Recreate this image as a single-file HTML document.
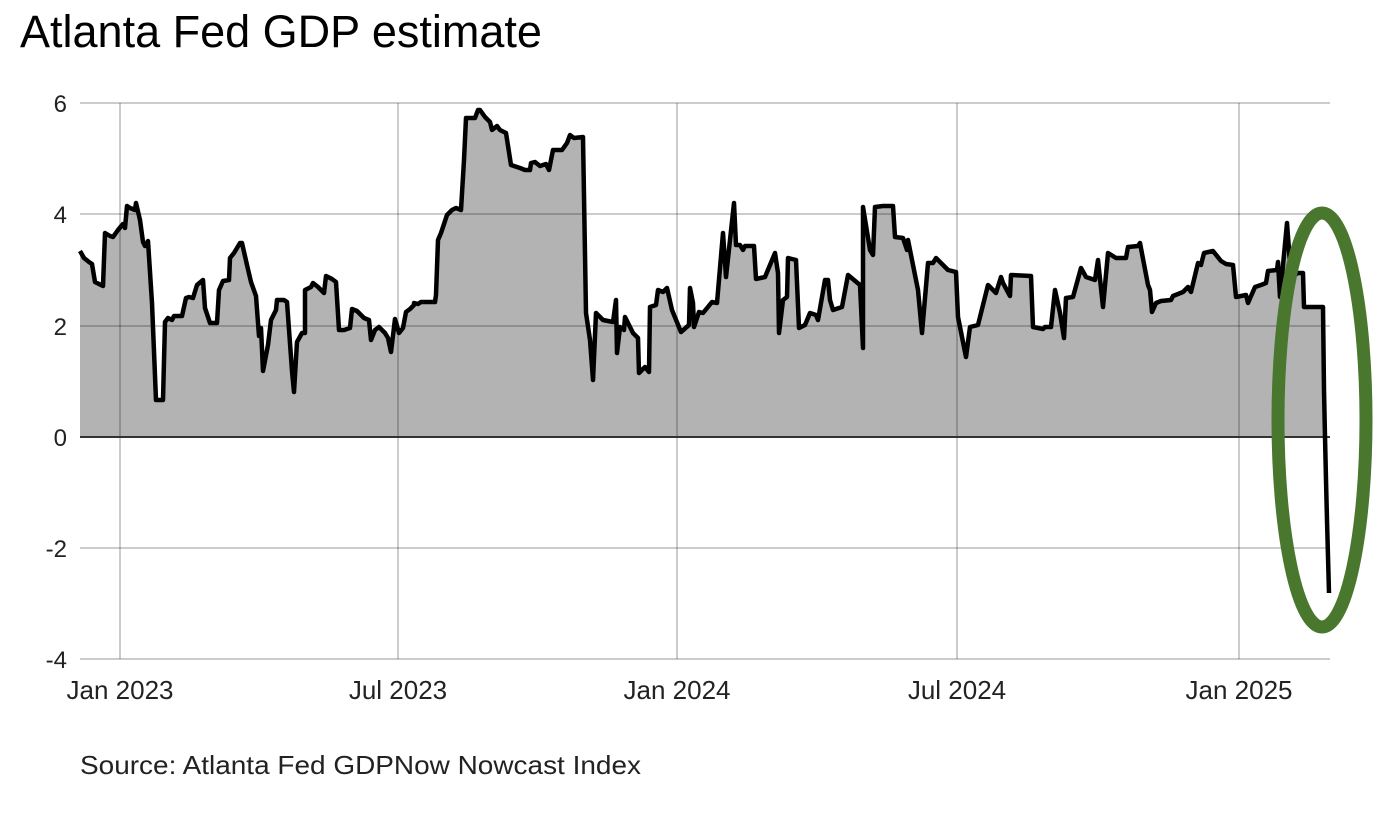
<!DOCTYPE html>
<html><head><meta charset="utf-8"><style>
html,body{margin:0;padding:0;background:#fff;}
svg{display:block;font-family:"Liberation Sans",sans-serif;}
</style></head><body>
<svg width="1378" height="822" viewBox="0 0 1378 822" xmlns="http://www.w3.org/2000/svg">
<rect width="1378" height="822" fill="#fff"/>
<text x="20" y="47" font-size="45" fill="#000">Atlanta Fed GDP estimate</text>
<defs>
<polyline id="ln" points="80,251 84,258 89,262 92,264 95,282 101,285 103,286 105,233 110,236 113,237 118,230 123,224 125,228 126,217 127,206 130,208 135,210 136,203 140,220 143,242 145,246 148,241 152,303 156,400 158,400 163,400 165,322 168,318 172,320 174,316 178,316 182,316 186,298 189,297 193,298 197,285 203,280 205,308 210,323 217,323 219,290 223,281 229,280 230,258 234,253 240,243 242,243 247,265 251,282 256,296 259,336 261,328 263,371 268,345 271,320 276,310 277,300 284,300 287,302 292,371 294,392 297,342 302,333 305,333 305,290 311,287 313,283 318,287 324,293 326,276 332,279 336,282 339,330 344,330 350,328 352,309 357,311 364,318 369,320 371,340 375,330 379,327 385,333 388,338 391,352 395,319 399,333 403,328 406,312 410,309 414,305 414,303 418,304 421,302 427,302 435,302 436,295 438,240 441,233 447,215 452,210 456,208 461,210 464,160 466,118 473,118 475,118 478,110 480,110 485,117 490,122 492,130 497,126 500,130 506,133 511,165 520,168 525,170 530,170 531,163 535,162 540,166 546,164 549,170 553,150 562,150 567,143 570,135 574,138 583,137 586,313 590,340 593,380 596,313 603,320 613,322 616,300 617,353 620,327 624,330 625,317 633,333 638,338 639,373 645,367 649,372 650,307 656,305 658,290 663,292 667,288 672,310 681,332 689,325 690,288 693,303 694,327 699,312 703,313 712,302 717,303 723,233 726,277 734,203 736,245 740,245 743,250 745,246 754,246 756,279 765,277 775,253 778,273 779,333 783,300 787,297 788,258 796,260 799,328 805,325 810,313 816,315 818,320 825,280 828,280 830,300 833,310 842,307 848,275 860,285 863,348 863,207 870,250 873,255 875,207 883,206 893,206 895,237 903,238 907,250 908,240 918,290 922,333 928,263 933,263 936,258 941,263 948,270 956,272 958,317 966,357 970,327 978,325 988,285 996,293 1001,277 1003,283 1010,296 1011,275 1031,276 1033,327 1043,329 1045,327 1051,327 1055,290 1060,313 1064,338 1066,298 1073,297 1081,268 1086,277 1095,280 1098,260 1103,307 1108,253 1116,258 1126,258 1128,247 1138,246 1140,243 1148,285 1150,290 1152,312 1156,303 1161,301 1171,300 1173,296 1183,292 1188,287 1191,292 1198,263 1201,265 1204,253 1213,251 1221,261 1226,264 1233,265 1236,297 1246,295 1248,303 1255,287 1261,285 1266,283 1268,271 1277,270 1278,262 1280,297 1287,223 1291,277 1298,273 1303,273 1304,307 1323,307 1324,390 1325,437 1326,480 1327,520 1329,593"/>
</defs>
<polygon fill="#b3b3b3" points="80,437 80,251 84,258 89,262 92,264 95,282 101,285 103,286 105,233 110,236 113,237 118,230 123,224 125,228 126,217 127,206 130,208 135,210 136,203 140,220 143,242 145,246 148,241 152,303 156,400 158,400 163,400 165,322 168,318 172,320 174,316 178,316 182,316 186,298 189,297 193,298 197,285 203,280 205,308 210,323 217,323 219,290 223,281 229,280 230,258 234,253 240,243 242,243 247,265 251,282 256,296 259,336 261,328 263,371 268,345 271,320 276,310 277,300 284,300 287,302 292,371 294,392 297,342 302,333 305,333 305,290 311,287 313,283 318,287 324,293 326,276 332,279 336,282 339,330 344,330 350,328 352,309 357,311 364,318 369,320 371,340 375,330 379,327 385,333 388,338 391,352 395,319 399,333 403,328 406,312 410,309 414,305 414,303 418,304 421,302 427,302 435,302 436,295 438,240 441,233 447,215 452,210 456,208 461,210 464,160 466,118 473,118 475,118 478,110 480,110 485,117 490,122 492,130 497,126 500,130 506,133 511,165 520,168 525,170 530,170 531,163 535,162 540,166 546,164 549,170 553,150 562,150 567,143 570,135 574,138 583,137 586,313 590,340 593,380 596,313 603,320 613,322 616,300 617,353 620,327 624,330 625,317 633,333 638,338 639,373 645,367 649,372 650,307 656,305 658,290 663,292 667,288 672,310 681,332 689,325 690,288 693,303 694,327 699,312 703,313 712,302 717,303 723,233 726,277 734,203 736,245 740,245 743,250 745,246 754,246 756,279 765,277 775,253 778,273 779,333 783,300 787,297 788,258 796,260 799,328 805,325 810,313 816,315 818,320 825,280 828,280 830,300 833,310 842,307 848,275 860,285 863,348 863,207 870,250 873,255 875,207 883,206 893,206 895,237 903,238 907,250 908,240 918,290 922,333 928,263 933,263 936,258 941,263 948,270 956,272 958,317 966,357 970,327 978,325 988,285 996,293 1001,277 1003,283 1010,296 1011,275 1031,276 1033,327 1043,329 1045,327 1051,327 1055,290 1060,313 1064,338 1066,298 1073,297 1081,268 1086,277 1095,280 1098,260 1103,307 1108,253 1116,258 1126,258 1128,247 1138,246 1140,243 1148,285 1150,290 1152,312 1156,303 1161,301 1171,300 1173,296 1183,292 1188,287 1191,292 1198,263 1201,265 1204,253 1213,251 1221,261 1226,264 1233,265 1236,297 1246,295 1248,303 1255,287 1261,285 1266,283 1268,271 1277,270 1278,262 1280,297 1287,223 1291,277 1298,273 1303,273 1304,307 1323,307 1324,390 1325,437"/>
<g stroke="#000" stroke-opacity="0.2" stroke-width="2">
<line x1="80" y1="103" x2="1330" y2="103"/>
<line x1="80" y1="214" x2="1330" y2="214"/>
<line x1="80" y1="326" x2="1330" y2="326"/>
<line x1="80" y1="548" x2="1330" y2="548"/>
<line x1="80" y1="659" x2="1330" y2="659"/>
<line x1="120" y1="103" x2="120" y2="659"/>
<line x1="398" y1="103" x2="398" y2="659"/>
<line x1="677" y1="103" x2="677" y2="659"/>
<line x1="957" y1="103" x2="957" y2="659"/>
<line x1="1239" y1="103" x2="1239" y2="659"/>
</g>
<line x1="80" y1="437" x2="1330" y2="437" stroke="#333" stroke-width="2"/>
<use href="#ln" fill="none" stroke="#000" stroke-width="4.5" stroke-linejoin="round"/>
<g font-size="24" fill="#222" text-anchor="end">
<text x="67" y="112">6</text>
<text x="67" y="223">4</text>
<text x="67" y="335">2</text>
<text x="67" y="446">0</text>
<text x="67" y="557">-2</text>
<text x="67" y="668">-4</text>
</g>
<g font-size="26" fill="#222" text-anchor="middle">
<text x="120" y="699">Jan 2023</text>
<text x="398" y="699">Jul 2023</text>
<text x="677" y="699">Jan 2024</text>
<text x="957" y="699">Jul 2024</text>
<text x="1239" y="699">Jan 2025</text>
</g>
<text x="80" y="774" font-size="26" fill="#222" textLength="561" lengthAdjust="spacingAndGlyphs">Source: Atlanta Fed GDPNow Nowcast Index</text>
<ellipse cx="1322" cy="420" rx="44" ry="207" fill="none" stroke="#4a772e" stroke-width="13"/>
</svg>
</body></html>
